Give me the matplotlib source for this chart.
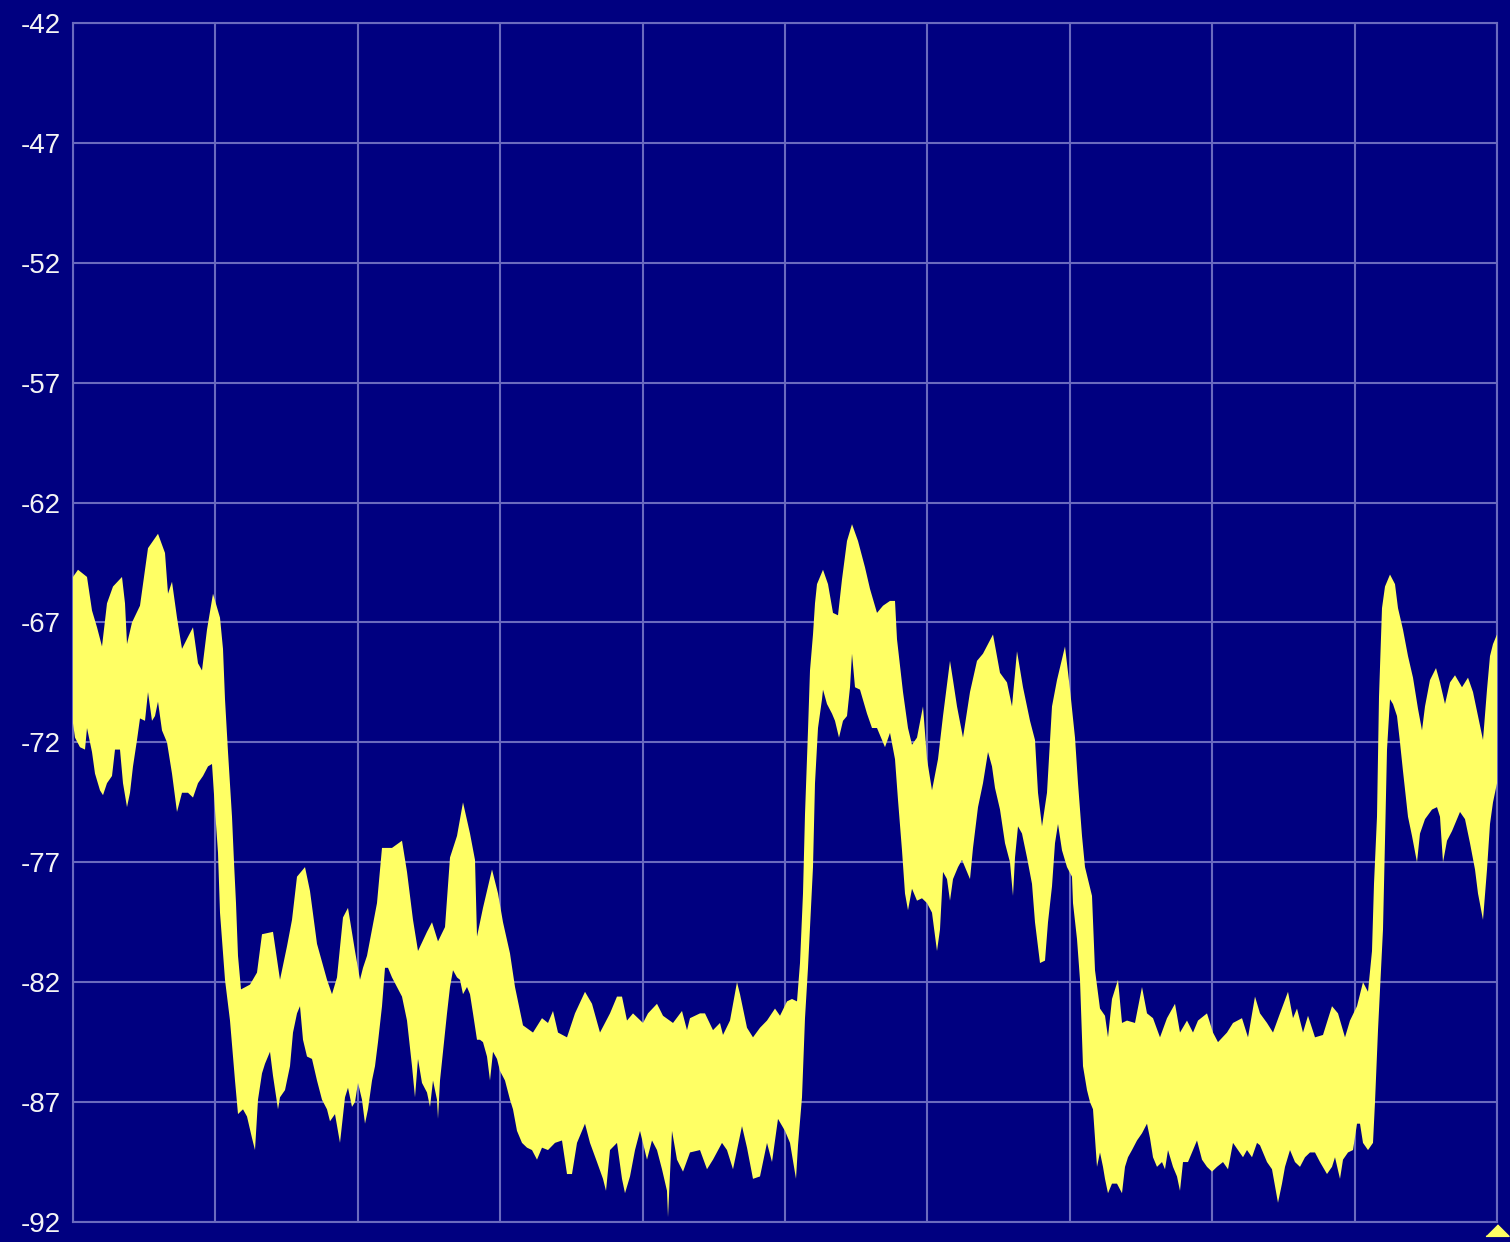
import numpy as np
import matplotlib
matplotlib.use("Agg")
import matplotlib.pyplot as plt

# trace: sample index (0..1424) and level in dBm
# upper envelope of the trace
upper_x = [0, 5, 14, 19, 24, 29, 34, 40, 49, 52, 54, 59, 67, 72, 75, 85, 92, 95, 99, 104,
           109, 115, 120, 125, 129, 134, 140, 147, 150, 152, 155, 159, 161, 163, 165, 168, 177, 184, 189, 200,
           207, 214, 219, 224, 232, 237, 244, 254, 259, 264, 270, 275, 282, 287, 290, 294, 304, 309, 319, 329,
           334, 340, 345, 354, 359, 365, 372, 377, 384, 390, 397, 402, 404, 410, 419, 425, 430, 437, 442, 450,
           460, 469, 475, 480, 485, 494, 502, 512, 519, 527, 537, 544, 549, 554, 560, 570, 575, 584, 590, 600,
           609, 614, 617, 627, 632, 640, 647, 650, 657, 664, 667, 674, 680, 687, 694, 702, 707, 714, 719, 724,
           727, 730, 732, 735, 737, 740, 742, 744, 750, 755, 760, 765, 769, 774, 779, 785, 792, 797, 804, 810,
           817, 822, 824, 830, 835, 839, 844, 850, 854, 859, 865, 870, 877, 880, 884, 890, 897, 904, 910, 920,
           927, 934, 939, 944, 950, 957, 962, 965, 969, 974, 979, 984, 992, 997, 1002, 1005, 1009, 1012, 1019, 1022,
           1027, 1032, 1035, 1039, 1045, 1049, 1054, 1062, 1069, 1074, 1080, 1087, 1094, 1102, 1107, 1114, 1120, 1125, 1134, 1140,
           1145, 1154, 1160, 1169, 1175, 1182, 1187, 1194, 1200, 1207, 1215, 1220, 1224, 1230, 1235, 1242, 1250, 1259, 1265, 1272,
           1277, 1284, 1290, 1295, 1299, 1301, 1304, 1306, 1309, 1312, 1317, 1322, 1325, 1330, 1335, 1340, 1345, 1349, 1352, 1357,
           1363, 1367, 1372, 1377, 1382, 1389, 1395, 1400, 1405, 1410, 1414, 1417, 1420, 1424]
upper_db = [-65.1, -64.8, -65.1, -66.5, -67.2, -68.0, -66.2, -65.5, -65.1, -66.2, -67.9, -67.0, -66.3, -64.8, -63.9, -63.3, -64.1, -65.8, -65.3, -66.8,
            -68.1, -67.6, -67.2, -68.7, -69.0, -67.3, -65.8, -66.8, -68.1, -70.2, -72.4, -75.1, -77.0, -78.7, -80.9, -82.3, -82.1, -81.6, -80.0, -79.9,
            -81.9, -80.5, -79.4, -77.6, -77.2, -78.2, -80.4, -81.9, -82.5, -81.8, -79.3, -78.9, -80.7, -81.9, -81.4, -80.9, -78.7, -76.4, -76.4, -76.1,
            -77.4, -79.4, -80.7, -79.9, -79.5, -80.3, -79.7, -76.8, -75.9, -74.5, -75.8, -76.9, -80.1, -78.9, -77.3, -78.3, -79.5, -80.8, -82.2, -83.8,
            -84.1, -83.5, -83.7, -83.2, -84.1, -84.3, -83.3, -82.4, -82.9, -84.1, -83.3, -82.6, -82.6, -83.6, -83.3, -83.7, -83.3, -82.9, -83.4, -83.7,
            -83.2, -84.0, -83.5, -83.3, -83.3, -84.0, -83.7, -84.2, -83.6, -82.0, -82.5, -83.9, -84.3, -83.9, -83.6, -83.1, -83.4, -82.8, -82.7, -82.8,
            -81.2, -78.3, -75.0, -71.5, -69.0, -67.5, -66.2, -65.4, -64.8, -65.4, -66.6, -66.7, -65.2, -63.6, -62.9, -63.6, -64.7, -65.6, -66.6, -66.3,
            -66.1, -66.1, -67.7, -69.9, -71.4, -72.1, -71.8, -70.5, -72.7, -74.0, -72.7, -70.9, -68.6, -69.4, -70.5, -71.8, -69.9, -68.6, -68.3, -67.5,
            -69.1, -69.5, -70.5, -68.2, -69.7, -71.1, -71.9, -74.1, -75.5, -74.1, -70.5, -69.4, -68.0, -69.8, -71.8, -73.7, -75.9, -77.2, -78.4, -81.5,
            -83.1, -83.4, -84.3, -82.7, -81.9, -83.7, -83.6, -83.7, -82.2, -83.3, -83.5, -84.3, -83.5, -82.9, -84.1, -83.6, -84.1, -83.6, -83.3, -84.1,
            -84.5, -84.1, -83.7, -83.5, -84.3, -82.6, -83.3, -83.7, -84.1, -83.3, -82.4, -83.5, -83.1, -84.1, -83.4, -84.3, -84.2, -83.0, -83.3, -84.3,
            -83.6, -83.0, -82.0, -82.4, -80.7, -77.9, -75.1, -70.1, -66.4, -65.5, -65.0, -65.4, -66.4, -67.3, -68.4, -69.3, -70.6, -71.5, -70.5, -69.4,
            -68.9, -69.5, -70.4, -69.5, -69.2, -69.7, -69.3, -69.9, -70.9, -71.9, -69.8, -68.4, -67.9, -67.5]

# lower envelope of the trace
lower_x = [0, 2, 7, 12, 14, 19, 22, 27, 30, 34, 39, 42, 47, 50, 54, 57, 60, 64, 67, 72,
           75, 79, 82, 85, 89, 94, 99, 104, 109, 115, 120, 125, 130, 135, 139, 142, 145, 147, 152, 157,
           162, 165, 170, 174, 179, 182, 185, 189, 192, 197, 200, 205, 207, 212, 217, 220, 224, 227, 230, 234,
           239, 244, 249, 254, 257, 262, 267, 272, 275, 279, 282, 285, 289, 292, 295, 299, 302, 305, 309, 312,
           315, 319, 324, 329, 334, 339, 342, 345, 349, 354, 357, 360, 364, 365, 367, 370, 374, 377, 380, 384,
           387, 390, 394, 397, 400, 404, 407, 410, 414, 417, 420, 424, 427, 432, 437, 440, 444, 449, 454, 459,
           464, 469, 475, 482, 489, 494, 499, 504, 512, 517, 524, 530, 533, 537, 544, 549, 552, 557, 562, 567,
           574, 579, 584, 589, 594, 595, 599, 604, 610, 617, 627, 634, 640, 649, 654, 660, 669, 674, 680, 687,
           694, 699, 705, 712, 717, 723, 725, 729, 732, 735, 740, 742, 745, 749, 750, 754, 759, 762, 766, 770,
           774, 777, 779, 782, 787, 794, 799, 804, 809, 812, 817, 822, 825, 829, 832, 835, 839, 844, 849, 854,
           859, 864, 867, 870, 874, 877, 880, 885, 889, 892, 897, 900, 905, 910, 915, 919, 922, 927, 932, 937,
           940, 942, 945, 949, 954, 959, 962, 967, 972, 975, 979, 982, 985, 989, 994, 999, 1000, 1004, 1007, 1010,
           1014, 1017, 1020, 1022, 1024, 1027, 1030, 1032, 1035, 1039, 1044, 1049, 1052, 1055, 1059, 1064, 1069, 1074, 1077, 1080,
           1084, 1089, 1092, 1095, 1100, 1104, 1107, 1110, 1115, 1120, 1124, 1129, 1134, 1139, 1144, 1150, 1155, 1160, 1165, 1170,
           1174, 1179, 1184, 1187, 1194, 1199, 1202, 1205, 1209, 1212, 1217, 1222, 1227, 1232, 1237, 1242, 1247, 1254, 1259, 1262,
           1267, 1270, 1275, 1280, 1284, 1287, 1290, 1295, 1300, 1302, 1305, 1310, 1312, 1314, 1317, 1320, 1324, 1327, 1330, 1335,
           1339, 1344, 1347, 1352, 1359, 1364, 1367, 1370, 1374, 1379, 1384, 1387, 1392, 1397, 1402, 1405, 1410, 1414, 1417, 1420,
           1424]
lower_db = [-71.2, -71.8, -72.2, -72.3, -71.4, -72.4, -73.3, -74.0, -74.2, -73.7, -73.4, -72.3, -72.3, -73.7, -74.7, -74.1, -73.0, -71.9, -71.0, -71.1,
            -69.9, -71.1, -70.9, -70.3, -71.5, -72.0, -73.3, -74.9, -74.1, -74.1, -74.3, -73.7, -73.4, -73.0, -72.9, -74.8, -76.6, -79.1, -81.9, -83.6,
            -86.1, -87.5, -87.3, -87.6, -88.5, -89.0, -86.9, -85.8, -85.4, -84.9, -85.9, -87.3, -86.8, -86.5, -85.5, -84.1, -83.3, -83.0, -84.4, -85.1,
            -85.2, -86.1, -86.9, -87.3, -87.8, -87.5, -88.7, -86.8, -86.4, -87.2, -87.0, -86.2, -86.9, -87.9, -87.3, -86.1, -85.5, -84.5, -83.0, -81.4,
            -81.4, -81.8, -82.2, -82.6, -83.6, -85.5, -86.8, -85.2, -86.2, -86.6, -87.2, -86.1, -86.9, -87.7, -86.1, -84.9, -83.3, -82.2, -81.5, -81.8,
            -81.9, -82.5, -82.2, -82.5, -83.3, -84.4, -84.4, -84.5, -85.1, -86.1, -84.9, -85.2, -85.7, -86.1, -86.9, -87.3, -88.2, -88.7, -88.9, -89.0,
            -89.4, -88.9, -89.0, -88.7, -88.6, -90.0, -90.0, -88.7, -87.9, -88.7, -89.5, -90.2, -90.7, -89.0, -88.7, -90.2, -90.8, -90.1, -89.0, -88.2,
            -89.4, -88.6, -89.0, -89.8, -90.7, -91.8, -88.2, -89.4, -89.9, -89.1, -89.0, -89.8, -89.4, -88.7, -89.0, -89.8, -88.0, -88.9, -90.2, -90.1,
            -88.7, -89.5, -87.7, -88.2, -88.7, -90.2, -88.8, -86.8, -83.5, -81.4, -77.2, -73.7, -71.4, -70.2, -69.8, -70.4, -70.8, -71.1, -71.8, -71.1,
            -70.9, -69.7, -68.3, -69.7, -69.8, -70.8, -71.4, -71.4, -71.9, -72.2, -71.6, -72.7, -74.4, -76.5, -78.3, -79.0, -78.1, -78.6, -78.5, -78.7,
            -79.1, -80.7, -79.8, -77.4, -77.7, -78.6, -77.7, -77.2, -76.9, -77.2, -77.7, -76.4, -74.7, -73.7, -72.4, -73.0, -73.9, -74.8, -76.2, -77.0,
            -78.4, -76.8, -75.5, -75.8, -76.8, -77.9, -79.5, -81.2, -81.1, -79.5, -78.0, -76.2, -75.4, -76.5, -77.2, -77.6, -78.7, -80.2, -81.9, -85.5,
            -86.5, -87.0, -87.3, -88.5, -89.7, -89.1, -89.7, -90.2, -90.8, -90.4, -90.4, -90.8, -89.7, -89.3, -89.0, -88.6, -88.3, -87.9, -88.5, -89.3,
            -89.7, -89.5, -89.8, -89.0, -89.7, -90.1, -90.7, -89.5, -89.5, -89.0, -88.6, -89.4, -89.7, -89.9, -89.7, -89.5, -89.8, -88.7, -89.0, -89.3,
            -89.0, -89.3, -88.7, -88.8, -89.5, -89.8, -90.5, -91.2, -90.4, -89.7, -89.0, -89.5, -89.7, -89.3, -89.1, -89.1, -89.5, -90.0, -89.7, -89.3,
            -90.2, -89.4, -89.1, -89.0, -87.9, -87.9, -88.7, -89.0, -88.7, -87.0, -84.0, -79.8, -76.1, -72.3, -70.2, -70.4, -70.9, -72.0, -73.2, -75.1,
            -75.9, -77.0, -75.8, -75.2, -74.8, -74.7, -75.1, -77.0, -76.1, -75.7, -75.2, -74.9, -75.2, -76.2, -77.3, -78.3, -79.4, -77.3, -75.4, -74.5,
            -73.7]

y_ticks = [-42, -47, -52, -57, -62, -67, -72, -77, -82, -87, -92]
n_samples = 1425
n_xdiv = 10

bg = "#000080"
grid_col = "#6A6ABE"
trace_col = "#FFFF64"

fig = plt.figure(figsize=(15.1, 12.42), dpi=100, facecolor=bg)
ax = fig.add_axes([73 / 1510, 1 - 1222 / 1242, 1424 / 1510, 1199 / 1242])
ax.set_facecolor(bg)

# band between max and min hold -> one polygon
poly_x = np.concatenate([upper_x, lower_x[::-1]])
poly_y = np.concatenate([upper_db, lower_db[::-1]])
ax.fill(poly_x, poly_y, color=trace_col, lw=0, zorder=3)

ax.set_xlim(0, n_samples - 1)
ax.set_ylim(y_ticks[-1], y_ticks[0])
ax.set_xticks(np.linspace(0, n_samples - 1, n_xdiv + 1))
ax.set_yticks(y_ticks)
ax.set_xticklabels([])
ax.set_yticklabels([str(t) for t in y_ticks], family="Liberation Sans", fontsize=20, color="#F4F4F4")
ax.tick_params(length=0, pad=9)
ax.grid(True, color=grid_col, lw=1.5, zorder=1)
ax.set_axisbelow(True)
for s in ax.spines.values():
    s.set_color(grid_col)
    s.set_linewidth(1.5)

# little yellow marker under the right end of the trace
ax.plot([n_samples - 1], [0], transform=ax.get_xaxis_transform(), marker=[(-1, -1.2), (1, -1.2), (0, -0.2)],
        ms=20, color=trace_col, clip_on=False, zorder=5)

fig.savefig("out.png", dpi=100, facecolor=bg)
